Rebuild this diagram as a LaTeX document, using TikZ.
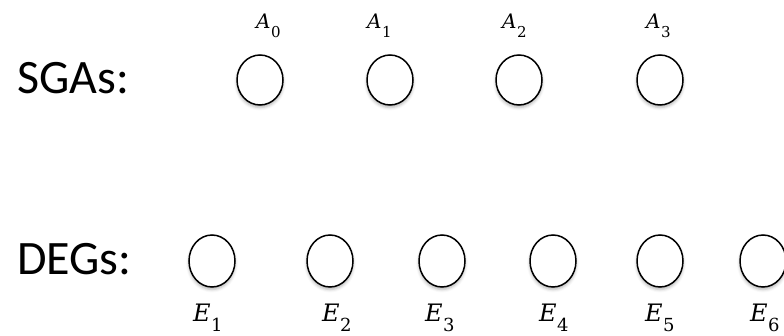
\documentclass[tikz,border=0pt]{standalone}
\usepackage{fontspec}
\setmainfont{Carlito}
\newfontfamily\lblfont{DejaVu Serif}
\usetikzlibrary{shapes.geometric,shadows.blur}
\newcommand\alab[1]{{\lblfont\fontsize{20}{21}\selectfont\itshape A}\kern0.5pt\raisebox{-9pt}{\lblfont\fontsize{15}{15}\selectfont #1}}
\newcommand\elab[1]{{\lblfont\fontsize{24}{25}\selectfont\itshape E}\kern0.5pt\raisebox{-10pt}{\lblfont\fontsize{18}{18}\selectfont #1}}
\tikzset{
  unit/.style={ellipse, draw=black, line width=1.5pt, minimum width=46pt, minimum height=50pt, inner sep=0pt, fill=white,
    blur shadow={shadow xshift=0pt, shadow yshift=-2.5pt, shadow blur radius=3pt, shadow opacity=30}},
  rowlabel/.style={anchor=base west, inner sep=0pt, font=\fontsize{48}{50}\selectfont},
  symlabel/.style={anchor=base west, inner sep=0pt}
}
\begin{document}
\begin{tikzpicture}[x=1pt,y=-1pt]
\useasboundingbox (0,0) rectangle (784,336);
% row labels
\node[rowlabel] (sga) at (17,94) {SGAs:};
\node[rowlabel] (deg) at (17,275) {DEGs:};
% SGA nodes and labels
\foreach \i/\cx/\lx in {0/260/256, 1/390/367, 2/519/502, 3/660/646} {
  \node[unit] (a\i) at (\cx,80) {};
  \node[symlabel] (la\i) at (\lx,29) {\alab{\i}};
}
% DEG nodes and labels
\foreach \i/\cx/\lx in {1/212/193, 2/330/322, 3/442/425, 4/553/539, 5/660/645, 6/763/750} {
  \node[unit, minimum height=52pt] (e\i) at (\cx,261) {};
  \node[symlabel] (le\i) at (\lx,322) {\elab{\i}};
}
\end{tikzpicture}
\end{document}
